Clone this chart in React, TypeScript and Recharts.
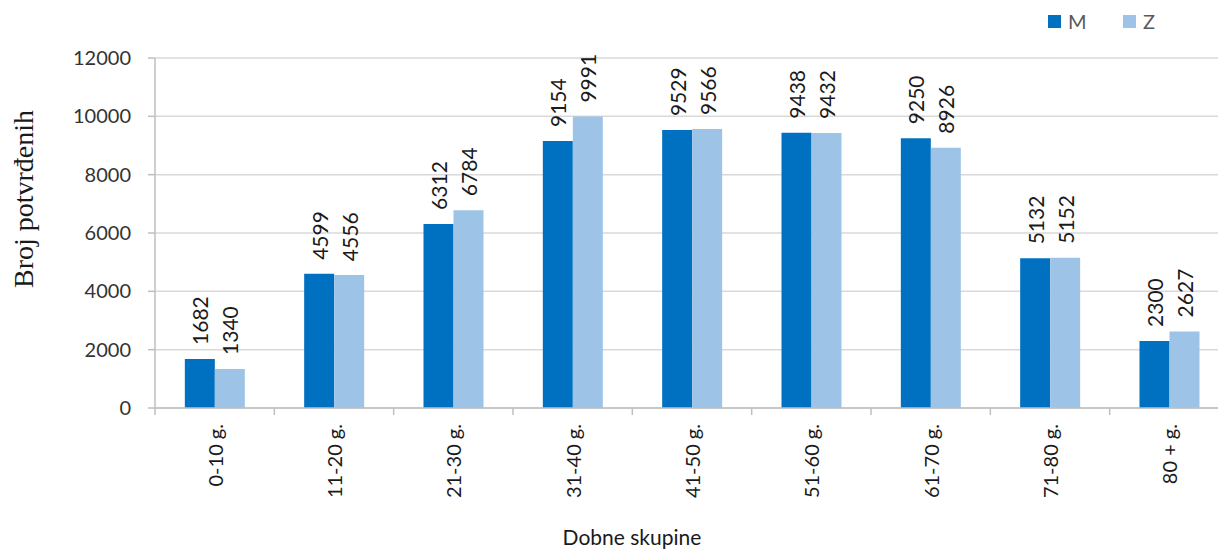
import React from 'react';
import { BarChart, Bar, XAxis, YAxis, CartesianGrid, LabelList } from 'recharts';

const categories = ['0-10 g.', '11-20 g.', '21-30 g.', '31-40 g.', '41-50 g.', '51-60 g.', '61-70 g.', '71-80 g.', '80 + g.'];
const maleValues = [1682, 4599, 6312, 9154, 9529, 9438, 9250, 5132, 2300];
const femaleValues = [1340, 4556, 6784, 9991, 9566, 9432, 8926, 5152, 2627];
const yTicks = [0, 2000, 4000, 6000, 8000, 10000, 12000];

const SERIES = {
  M: { color: '#0070C0', label: 'M' },
  Z: { color: '#9DC3E6', label: 'Z' },
} as const;

const SANS = 'Lato, "Open Sans", sans-serif';
const SERIF = '"Liberation Serif", "DejaVu Serif", serif';

const CHART_W = 1234;
const CHART_H = 552;
const Y_AXIS_W = 155;
const MARGIN = { top: 58, right: 5, left: 0, bottom: 0 };
const PLOT_W = CHART_W - Y_AXIS_W - MARGIN.left - MARGIN.right;
const BAND = PLOT_W / categories.length;

const data = categories.map((name, i) => ({
  name,
  M: maleValues[i],
  Z: femaleValues[i],
}));

// value labels sit above the bar, rotated
const ValueLabel = (props: any) => {
  const { x, y, width, value } = props;
  const cx = x + width / 2;
  const cy = y - 14;
  return (
    <text
      x={cx}
      y={cy}
      transform={`rotate(-90, ${cx}, ${cy})`}
      textAnchor="start"
      dominantBaseline="central"
      fontFamily={SANS}
      fontSize={21}
      fill="#1a1a1a"
    >
      {value}
    </text>
  );
};

// category label rotated, plus a tick mark at the left edge of each band
const CategoryTick = (props: any) => {
  const { x, y, payload } = props;
  const axisY = y - 9;
  const left = x - BAND / 2;
  const ty = axisY + 16;
  return (
    <g>
      <line x1={left} y1={axisY} x2={left} y2={axisY + 7} stroke="#bfbfbf" strokeWidth={1.5} />
      <text
        x={x}
        y={ty}
        transform={`rotate(-90, ${x}, ${ty})`}
        textAnchor="end"
        dominantBaseline="central"
        fontFamily={SANS}
        fontSize={20}
        fill="#1a1a1a"
      >
        {payload.value}
      </text>
    </g>
  );
};

const ChartLegend = () => (
  <div
    style={{
      position: 'absolute',
      top: 9,
      left: 1048,
      display: 'flex',
      fontFamily: SANS,
      fontSize: 20,
      color: '#595959',
    }}
  >
    {Object.values(SERIES).map((s) => (
      <div key={s.label} style={{ display: 'flex', alignItems: 'center', width: 75 }}>
        <span style={{ width: 13, height: 13, background: s.color, display: 'inline-block', marginRight: 7 }} />
        <span>{s.label}</span>
      </div>
    ))}
  </div>
);

export default function App() {
  return (
    <div style={{ position: 'absolute', left: 0, top: 0, width: 1218, height: 552, overflow: 'hidden', background: '#fff' }}>
      <BarChart
        width={CHART_W}
        height={CHART_H}
        data={data}
        margin={MARGIN}
        barCategoryGap="25%"
        barGap={0}
      >
        <CartesianGrid vertical={false} stroke="#d9d9d9" strokeWidth={1.5} />
        <XAxis
          dataKey="name"
          height={CHART_H - 408}
          interval={0}
          tickLine={false}
          tick={<CategoryTick />}
          stroke="#bfbfbf"
          strokeWidth={1.5}
          tickSize={7}
          label={{
            content: ({ viewBox }: any) => (
              <text
                x={viewBox.x + viewBox.width / 2 - 60}
                y={viewBox.y + viewBox.height - 7}
                textAnchor="middle"
                fontFamily={SANS}
                fontSize={21}
                fill="#1a1a1a"
              >
                Dobne skupine
              </text>
            ),
          }}
        />
        <YAxis
          width={Y_AXIS_W}
          domain={[0, 12000]}
          ticks={yTicks}
          interval={0}
          stroke="#bfbfbf"
          strokeWidth={1.5}
          tickSize={7}
          tickMargin={17}
          tick={{ fontFamily: SANS, fontSize: 20, fill: '#333' }}
          label={{
            content: ({ viewBox }: any) => {
              const lx = viewBox.x + 23;
              const ly = viewBox.y + viewBox.height / 2 - 34;
              return (
                <text
                  x={lx}
                  y={ly}
                  transform={`rotate(-90, ${lx}, ${ly})`}
                  textAnchor="middle"
                  dominantBaseline="central"
                  fontFamily={SERIF}
                  fontSize={28}
                  fill="#1a1a1a"
                >
                  Broj potvrđenih
                </text>
              );
            },
          }}
        />
        <Bar dataKey="M" name="M" fill={SERIES.M.color} isAnimationActive={false}>
          <LabelList dataKey="M" content={<ValueLabel />} />
        </Bar>
        <Bar dataKey="Z" name="Z" fill={SERIES.Z.color} isAnimationActive={false}>
          <LabelList dataKey="Z" content={<ValueLabel />} />
        </Bar>
      </BarChart>
      <ChartLegend />
    </div>
  );
}
